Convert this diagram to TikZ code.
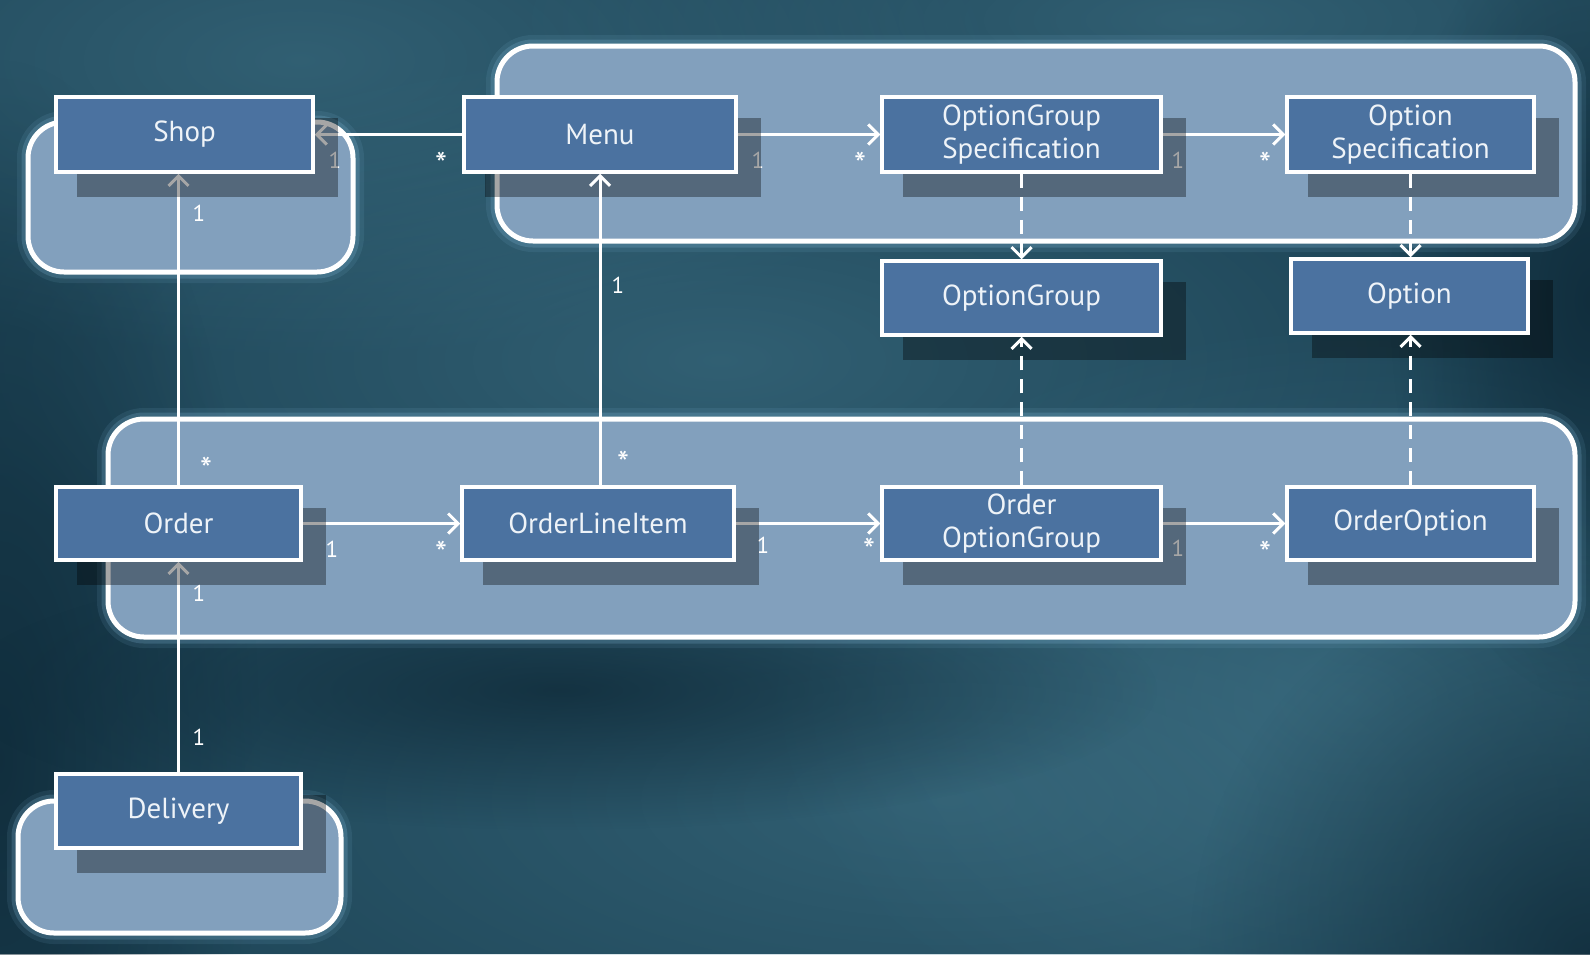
\documentclass[tikz,border=0pt]{standalone}
\usepackage{fontspec}
\setmainfont{PT Sans}
\usetikzlibrary{arrows.meta,fadings}
\pgfdeclarelayer{bgl}
\pgfdeclarelayer{grpl}
\pgfdeclarelayer{lnl}
\pgfdeclarelayer{shl}
\pgfsetlayers{bgl,grpl,lnl,shl,main}
\definecolor{bgc}{HTML}{1D4456}
\definecolor{bglight}{HTML}{4A8196}
\definecolor{bgdark}{HTML}{0C2533}
\definecolor{grpc}{HTML}{82A0BD}
\definecolor{boxc}{HTML}{4B72A0}
\definecolor{glowc}{HTML}{8CC4E6}
\definecolor{txtc}{HTML}{EEF3F8}
\tikzfading[name=softblob, inner color=transparent!0, outer color=transparent!100]
\begin{document}
\begin{tikzpicture}[x=1pt,y=-1pt,
  cls/.style={draw=white, line width=3.5pt, fill=boxc, text=txtc, minimum height=74pt,
    inner sep=0pt, align=center, font=\fontsize{29}{33}\selectfont},
  grp/.style={draw=white, line width=5pt, fill=grpc, rounded corners=36pt},
  glowa/.style={draw=glowc, line width=22pt, draw opacity=0.10, rounded corners=36pt},
  glowb/.style={draw=glowc, line width=13pt, draw opacity=0.20, rounded corners=36pt},
  conn/.style={draw=white, line width=3pt, -{Straight Barb[length=10pt,width=20pt]}},
  dep/.style={conn, dash pattern=on 14pt off 9pt},
  mult/.style={text=white, font=\fontsize{23}{23}\selectfont, inner sep=0pt},
  many/.style={text=white, font=\fontsize{34}{34}\selectfont, inner sep=0pt},
  shd/.style={fill=black, fill opacity=0.35},
  lite/.style={fill=bglight, path fading=softblob, fill opacity=0.45},
  dark/.style={fill=bgdark, path fading=softblob, fill opacity=0.7},
]
\useasboundingbox (0,0) rectangle (1590,954);

% background
\begin{pgfonlayer}{bgl}
  \fill[bgc] (0,0) rectangle (1590,954);
  \fill[lite] (300,60) ellipse (700 and 300);
  \fill[lite] (720,360) ellipse (800 and 320);
  \fill[lite] (950,800) ellipse (1000 and 380);
  \fill[lite] (1350,700) ellipse (600 and 380);
  \fill[lite] (1200,20) ellipse (700 and 200);
  \fill[dark] (0,760) ellipse (260 and 700);
  \fill[dark] (1590,954) ellipse (400 and 400);
  \fill[dark] (560,690) ellipse (600 and 140);
  \fill[dark] (1590,300) ellipse (200 and 400);
\end{pgfonlayer}

% groups
\begin{pgfonlayer}{grpl}
  \foreach \st in {glowa,glowb,grp} {
    \path[\st] (28,122) rectangle (353,272);
    \path[\st] (497,46) rectangle (1575,241);
    \path[\st] (108,419) rectangle (1575,637);
    \path[\st] (18,801) rectangle (341,933);
  }
\end{pgfonlayer}

% classes
\node[cls, minimum width=257pt, minimum height=75pt] (shop) at (184.5,134.5) {Shop};
\node[cls, minimum width=272pt, minimum height=75pt] (menu) at (600,134.5) {Menu};
\node[cls, minimum width=279pt, minimum height=75pt] (ogs) at (1021.5,134.5) {OptionGroup\\Specification};
\node[cls, minimum width=247pt, minimum height=75pt] (os) at (1410.5,134.5) {Option\\Specification};
\node[cls, minimum width=279pt] (og) at (1021.5,298) {OptionGroup};
\node[cls, minimum width=237pt] (opt) at (1409.5,296) {Option};
\node[cls, minimum width=245pt, minimum height=73pt] (order) at (178.5,523.5) {Order};
\node[cls, minimum width=272pt, minimum height=73pt] (oli) at (598,523.5) {OrderLineItem};
\node[cls, minimum width=279pt, minimum height=73pt] (oog) at (1021.5,523.5) {Order\\OptionGroup};
\node[cls, minimum width=247pt, minimum height=73pt] (oo) at (1410.5,523.5) {OrderOption};
\node[cls, minimum width=245pt] (del) at (178.5,811) {Delivery};

% shadows
\begin{pgfonlayer}{shl}
  \foreach \n in {shop,menu,ogs,os,og,opt,order,oli,oog,oo,del}
    \fill[shd] ([shift={(23,23)}]\n.north west) rectangle ([shift={(23,23)}]\n.south east);
\end{pgfonlayer}

% connectors under the shadows
\begin{pgfonlayer}{lnl}
  \draw[conn] (menu.west) -- (shop.east);
  \draw[conn] (menu.east) -- (ogs.west);
  \draw[conn] (ogs.east) -- (os.west);
  \draw[conn] (order.north) -- (order.north |- shop.south);
  \draw[conn] (order.east) -- (oli.west);
  \draw[conn] (oli.east) -- (oog.west);
  \draw[conn] (oog.east) -- (oo.west);
  \draw[conn] (del.north) -- (order.south);

  \node[mult] (m1) at (335,160) {1};
  \node[many] (m2) at (441,164) {*};
  \node[mult] (m3) at (758,160) {1};
  \node[many] (m4) at (860,164) {*};
  \node[mult] (m5) at (1178,160) {1};
  \node[many] (m6) at (1265,164) {*};
  \node[mult] (m7) at (199,213) {1};
  \node[many] (m8) at (206,469) {*};
  \node[mult] (m9) at (618,285) {1};
  \node[many] (m10) at (623,463) {*};
  \node[mult] (m11) at (332,549) {1};
  \node[many] (m12) at (441,553) {*};
  \node[mult] (m13) at (763,545) {1};
  \node[many] (m14) at (869,550) {*};
  \node[mult] (m15) at (1178,548) {1};
  \node[many] (m16) at (1265,553) {*};
  \node[mult] (m17) at (199,593) {1};
  \node[mult] (m18) at (199,737) {1};
\end{pgfonlayer}

% connectors above the shadows
\draw[conn] (menu.south |- oli.north) -- (menu.south);
\draw[dep] (ogs.south) -- (og.north);
\draw[dep] (os.south) -- (os.south |- opt.north);
\draw[dep] (oog.north) -- (og.south);
\draw[dep] (oo.north) -- (oo.north |- opt.south);
\end{tikzpicture}
\end{document}
